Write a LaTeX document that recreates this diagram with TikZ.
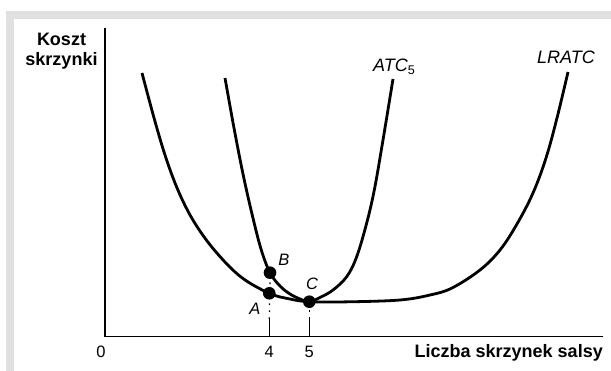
\documentclass[tikz,border=0pt]{standalone}
\usepackage{fontspec}
\setmainfont{Liberation Sans}
\definecolor{framegray}{RGB}{224,224,224}
\begin{document}
\begin{tikzpicture}[x=1pt,y=-1pt,
  axisline/.style={line width=1.4pt},
  curveline/.style={line width=2.8pt, line join=round},
  ticklabel/.style={font=\fontsize{16.5}{18}\selectfont, inner sep=0, anchor=base},
  axislabel/.style={font=\fontsize{18}{20}\selectfont\bfseries, inner sep=0},
  pointlabel/.style={font=\fontsize{16.5}{18}\selectfont\itshape, inner sep=0, anchor=base},
  curvelabel/.style={font=\fontsize{18}{20}\selectfont\itshape, inner sep=0, anchor=base west},
  dotnode/.style={circle, fill=black, inner sep=0, minimum size=12.6pt},
  guide/.style={line width=1.2pt, dash pattern=on 1.6pt off 5.4pt}]
\useasboundingbox (0,0) rectangle (611,371);
% frame bands
\fill[framegray] (6,11) rectangle (611,19);
\fill[framegray] (6,11) rectangle (14,371);
% axes
\coordinate (O) at (105,336.5);
\coordinate (ytop) at (105,28);
\coordinate (xend) at (603,336.5);
\draw[axisline] (ytop) -- (O) -- (xend);
% LRATC
\draw[curveline] plot[smooth, tension=0.6] coordinates {
 (142,73) (156,125) (168,164) (181,197) (196,225) (216,252) (241,277)
 (269.3,293.3) (290,299) (309.3,301.7) (350,301.8) (400,300) (430,295) (452,288)
 (480,270) (500,250) (517,224) (533,193) (546,158) (557,118) (568,72)};
% ATC5
\draw[curveline] plot[smooth, tension=0.6] coordinates {
 (225,78) (234,128) (243,174) (252,214) (261,249) (270,272.7)
 (280,286) (290,294) (300,299) (309.3,301.7) (320,297.5) (333,290) (346.7,276.7)
 (356.7,256.7) (366.7,223) (374.5,189) (383,140) (393,79)};
% points
\node[dotnode] (B) at (270,272.7) {};
\node[dotnode] (A) at (269.3,293.3) {};
\node[dotnode] (C) at (309.3,301.7) {};
% ticks
\coordinate (t4) at (269.3,336.5);
\coordinate (t4top) at (269.3,319);
\coordinate (t5) at (309.3,336.5);
\coordinate (t5top) at (309.3,319);
\draw[line width=1.4pt] (t4) -- (t4top);
\draw[line width=1.4pt] (t5) -- (t5top);
\draw[guide] (t4top) -- (B.south);
\draw[guide] (t5top) -- (C.south);
% labels
\node[pointlabel] (Bl) at (284,266) {B};
\node[pointlabel] (Cl) at (312,290) {C};
\node[pointlabel] (Al) at (255,315) {A};
\node[curvelabel] (atc) at (373,72) {ATC\textsubscript{\upshape 5}};
\node[curvelabel] (lratc) at (537,64) {LRATC};
\node[ticklabel] (l0) at (101,358) {0};
\node[ticklabel] (l4) at (269.3,358) {4};
\node[ticklabel] (l5) at (309.3,358) {5};
\node[axislabel, anchor=base east] (xl) at (603,358) {Liczba skrzynek salsy};
\node[axislabel, anchor=north, align=center] (yl) at (61.5,33) {Koszt\\skrzynki};
\end{tikzpicture}
\end{document}
